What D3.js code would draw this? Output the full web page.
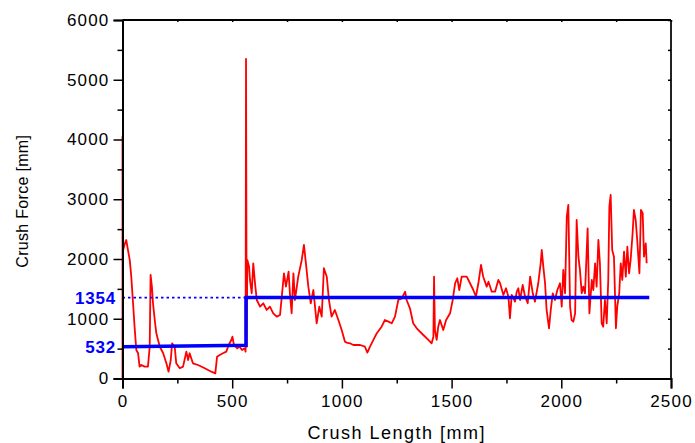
<!DOCTYPE html>
<html>
<head>
<meta charset="utf-8">
<script src="https://cdn.jsdelivr.net/npm/d3@7"></script>
<style>
  body { margin: 0; background: #fff; }
  text { font-family: "Liberation Sans", Arial, sans-serif; }
</style>
</head>
<body>
<div id="chart"></div>
<script>
// crush test trace
var crushLength = [0, 0, 3, 10, 17, 25, 33, 40, 48, 55, 63, 71, 78, 86, 101, 116, 124, 128, 134, 139, 147, 154, 170, 185, 200, 210, 220, 226, 238, 245, 261, 276, 291, 299, 306, 321, 344, 375, 405, 423, 431, 443, 458, 473, 484, 496, 501, 508, 523, 534, 545, 557, 561, 563, 566, 569, 577, 581, 589, 596, 604, 612, 627, 642, 657, 672, 687, 703, 718, 726, 736, 745, 757, 763, 771, 779, 786, 801, 817, 827, 836, 847, 858, 870, 885, 897, 908, 918, 931, 941, 953, 968, 984, 999, 1014, 1022, 1037, 1052, 1083, 1105, 1116, 1128, 1151, 1159, 1181, 1196, 1212, 1227, 1242, 1257, 1273, 1288, 1295, 1310, 1325, 1341, 1371, 1394, 1409, 1417, 1420, 1424, 1432, 1439, 1447, 1462, 1475, 1493, 1505, 1516, 1526, 1535, 1546, 1569, 1584, 1599, 1611, 1622, 1634, 1644, 1660, 1668, 1683, 1698, 1713, 1721, 1736, 1748, 1759, 1766, 1774, 1789, 1797, 1804, 1812, 1824, 1835, 1847, 1858, 1870, 1880, 1895, 1906, 1911, 1918, 1926, 1933, 1944, 1952, 1961, 1971, 1982, 1994, 2002, 2009, 2017, 2025, 2032, 2040, 2047, 2055, 2063, 2070, 2078, 2085, 2093, 2100, 2108, 2120, 2128, 2139, 2146, 2154, 2161, 2169, 2176, 2184, 2191, 2199, 2207, 2214, 2219, 2225, 2232, 2240, 2249, 2255, 2264, 2271, 2278, 2286, 2294, 2301, 2309, 2316, 2325, 2331, 2339, 2346, 2356, 2363, 2371, 2377, 2385, 2389];
var crushForce = [0, 4050, 2150, 2250, 2318, 2150, 1984, 1704, 1264, 867, 477, 422, 198, 226, 198, 198, 532, 1733, 1537, 1264, 979, 761, 532, 427, 254, 114, 310, 589, 532, 254, 171, 198, 449, 310, 422, 254, 226, 171, 114, 87, 365, 393, 422, 449, 561, 645, 700, 561, 505, 532, 477, 505, 449, 5350, 532, 1984, 1872, 1649, 1426, 1928, 1594, 1314, 1202, 1259, 1147, 1202, 1091, 1035, 1063, 1369, 1761, 1537, 1788, 1426, 1091, 1761, 1314, 1704, 1984, 2235, 1928, 1537, 1259, 1481, 924, 1202, 1035, 1845, 1704, 1314, 1035, 1147, 979, 812, 616, 600, 589, 561, 561, 532, 432, 532, 700, 757, 867, 979, 951, 924, 1035, 1314, 1342, 1453, 1314, 1175, 924, 840, 728, 645, 589, 700, 1704, 812, 645, 867, 979, 812, 979, 1091, 1314, 1594, 1677, 1481, 1704, 1704, 1594, 1481, 1369, 1594, 1900, 1704, 1537, 1620, 1453, 1453, 1649, 1594, 1398, 1510, 1369, 1008, 1398, 1286, 1453, 1510, 1314, 1565, 1369, 1259, 1704, 1426, 1286, 1594, 1928, 2151, 1872, 1594, 1147, 840, 1147, 1426, 1314, 1481, 1594, 1202, 1816, 1426, 2709, 2904, 1202, 979, 951, 1091, 2653, 2039, 1816, 1426, 1537, 1426, 2514, 1091, 1649, 1481, 1928, 1537, 2318, 1928, 924, 867, 1314, 924, 1649, 2876, 3072, 2151, 2039, 840, 1202, 1426, 1928, 1649, 2123, 1704, 2206, 1761, 1984, 2430, 2821, 2653, 2318, 1761, 2821, 2765, 2039, 2263, 1928];

// mean force levels (blue step) and labelled levels
var meanLength = [0, 563, 563, 2401];
var meanForce = [532, 555, 1354, 1354];
var levelLabels = [1354, 532];

var xTicks = [0, 500, 1000, 1500, 2000, 2500];
var xMinor = [250, 750, 1250, 1750, 2250];
var yTicks = [0, 1000, 2000, 3000, 4000, 5000, 6000];
var yMinor = [500, 1500, 2500, 3500, 4500, 5500];

var W = 695, H = 443;
var mLeft = 122.5, mRight = 671, mTop = 20, mBottom = 378.5;

var svg = d3.select("#chart").append("svg")
  .attr("width", W)
  .attr("height", H);

var x = d3.scaleLinear().domain([0, 2500]).range([mLeft, mRight]);
var y = d3.scaleLinear().domain([0, 6000]).range([mBottom, mTop]);

// frame: top and right
svg.append("line")
  .attr("x1", mLeft).attr("x2", mRight).attr("y1", mTop).attr("y2", mTop)
  .attr("stroke", "#000").attr("stroke-width", 2);
svg.append("line")
  .attr("x1", mRight).attr("x2", mRight).attr("y1", mTop).attr("y2", mBottom)
  .attr("stroke", "#222").attr("stroke-width", 2);

// small inward ticks on right and top
svg.append("g").attr("transform", "translate(" + mRight + ",0)")
  .call(d3.axisLeft(y).tickValues(yTicks.concat(yMinor)).tickSize(3).tickFormat(""))
  .call(function (g) { g.select(".domain").remove(); g.selectAll("line").attr("stroke-width", 1.5); });
svg.append("g").attr("transform", "translate(0," + mTop + ")")
  .call(d3.axisBottom(x).tickValues(xTicks.concat(xMinor)).tickSize(2).tickFormat(""))
  .call(function (g) { g.select(".domain").remove(); g.selectAll("line").attr("stroke-width", 1.5); });

// red trace
var line = d3.line()
  .x(function (d) { return x(d[0]); })
  .y(function (d) { return y(d[1]); });

var trace = crushLength.map(function (v, i) { return [v, crushForce[i]]; });
svg.append("path")
  .datum(trace)
  .attr("d", line)
  .attr("fill", "none")
  .attr("stroke", "#ff0000")
  .attr("stroke-width", 1.8)
  .attr("stroke-linejoin", "round");

// dotted guide for the second level
svg.append("line")
  .attr("x1", x(0)).attr("x2", x(meanLength[1]))
  .attr("y1", y(levelLabels[0])).attr("y2", y(levelLabels[0]))
  .attr("stroke", "#0000ff")
  .attr("stroke-width", 1.6)
  .attr("stroke-dasharray", "2.5,3");

// blue step
var step = meanLength.map(function (v, i) { return [v, meanForce[i]]; });
svg.append("path")
  .datum(step)
  .attr("d", line)
  .attr("fill", "none")
  .attr("stroke", "#0000ff")
  .attr("stroke-width", 3.5);

// axes
svg.append("g").attr("transform", "translate(0," + mBottom + ")")
  .call(d3.axisBottom(x).tickValues(xTicks).tickSize(10).tickPadding(6).tickFormat(d3.format("d")));
svg.append("g").attr("transform", "translate(0," + mBottom + ")")
  .call(d3.axisBottom(x).tickValues(xMinor).tickSize(5).tickFormat(""))
  .call(function (g) { g.select(".domain").remove(); });

svg.append("g").attr("transform", "translate(" + mLeft + ",0)")
  .call(d3.axisLeft(y).tickValues(yTicks).tickSize(9).tickPadding(4).tickFormat(d3.format("d")));
svg.append("g").attr("transform", "translate(" + mLeft + ",0)")
  .call(d3.axisLeft(y).tickValues(yMinor).tickSize(5).tickFormat(""))
  .call(function (g) { g.select(".domain").remove(); });

svg.selectAll(".domain").attr("stroke", "#000").attr("stroke-width", 2);
svg.selectAll(".tick line").attr("stroke", "#000").attr("stroke-width", 1.5);
svg.selectAll(".tick text")
  .attr("font-family", "'Liberation Sans', Arial, sans-serif")
  .attr("font-size", 17)
  .attr("letter-spacing", 1.2)
  .attr("fill", "#000");

// level labels
svg.selectAll(".level")
  .data(levelLabels)
  .enter().append("text")
  .attr("class", "level")
  .attr("x", 116)
  .attr("y", function (d, i) { return i === 0 ? y(d) : y(meanForce[0]); })
  .attr("dy", "0.35em")
  .attr("text-anchor", "end")
  .attr("font-size", 17)
  .attr("font-weight", "bold")
  .attr("letter-spacing", 0.8)
  .attr("fill", "#0000ff")
  .text(function (d) { return d; });

// axis titles
svg.append("text")
  .attr("x", (mLeft + mRight) / 2)
  .attr("y", 439)
  .attr("text-anchor", "middle")
  .attr("font-size", 18)
  .attr("letter-spacing", 1.5)
  .text("Crush Length [mm]");

svg.append("text")
  .attr("transform", "translate(28," + ((mTop + mBottom) / 2 + 2) + ") rotate(-90)")
  .attr("text-anchor", "middle")
  .attr("font-size", 16)
  .attr("letter-spacing", 0.3)
  .text("Crush Force [mm]");
</script>
</body>
</html>
